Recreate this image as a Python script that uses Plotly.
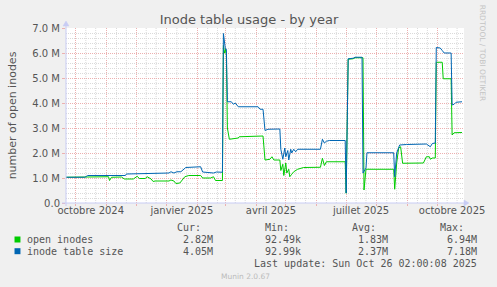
import plotly.graph_objects as go
import pandas as pd

# ---------------- data ----------------
title_text = "Inode table usage - by year"
y_title = "number of open inodes"

size_dates = ["2024-09-21", "2024-10-10", "2024-10-13", "2024-10-25", "2024-10-28", "2024-10-30",
              "2024-11-04", "2024-11-06", "2024-11-20", "2024-11-21", "2024-12-07", "2024-12-14",
              "2025-01-03", "2025-01-05", "2025-01-08", "2025-01-11", "2025-01-15", "2025-01-20",
              "2025-02-04", "2025-02-06", "2025-02-15", "2025-02-17", "2025-02-20", "2025-02-25",
              "2025-02-26", "2025-02-27", "2025-03-01", "2025-03-02", "2025-03-03", "2025-03-07",
              "2025-03-09", "2025-03-11", "2025-03-14", "2025-04-03", "2025-04-05", "2025-04-08",
              "2025-04-10", "2025-04-13", "2025-04-25", "2025-04-26", "2025-04-28", "2025-04-30",
              "2025-05-01", "2025-05-03", "2025-05-04", "2025-05-06", "2025-05-07", "2025-05-09",
              "2025-05-11", "2025-05-13", "2025-06-05", "2025-06-07", "2025-06-09", "2025-06-11",
              "2025-06-14", "2025-06-30", "2025-07-01", "2025-07-03", "2025-07-08", "2025-07-10",
              "2025-07-17", "2025-07-18", "2025-07-21", "2025-07-22", "2025-08-18", "2025-08-19",
              "2025-08-21", "2025-08-24", "2025-08-31", "2025-09-20", "2025-09-24", "2025-09-26",
              "2025-09-29", "2025-09-30", "2025-10-04", "2025-10-06", "2025-10-08", "2025-10-15",
              "2025-10-16", "2025-10-18", "2025-10-20", "2025-10-26"]
size_vals_m = [1.03, 1.03, 1.10, 1.10, 1.13, 1.10,
               1.12, 1.10, 1.10, 1.16, 1.17, 1.18,
               1.20, 1.25, 1.20, 1.25, 1.25, 1.42,
               1.45, 1.24, 1.23, 1.20, 1.24, 1.23,
               1.23, 6.78, 6.15, 6.15, 4.05, 4.05,
               3.95, 4.00, 3.85, 3.85, 3.75, 3.75,
               2.90, 2.95, 2.96, 2.15, 1.75, 2.20,
               1.85, 2.10, 1.72, 2.15, 2.00, 2.15,
               2.05, 2.15, 2.15, 2.55, 2.40, 2.47,
               2.50, 2.50, 0.40, 5.77, 5.79, 5.83,
               5.83, 1.20, 1.40, 2.01, 2.01, 1.05,
               2.00, 2.32, 2.34, 2.36, 2.25, 2.38,
               2.40, 6.22, 6.20, 6.10, 6.00, 6.00,
               3.92, 3.95, 4.03, 4.05]

open_dates = ["2024-09-21", "2024-11-01", "2024-11-03", "2024-11-04", "2024-11-06", "2024-11-16",
              "2024-11-19", "2024-11-28", "2024-12-02", "2024-12-04", "2024-12-10", "2024-12-12",
              "2024-12-16", "2024-12-18", "2024-12-20", "2025-01-03", "2025-01-05", "2025-01-08",
              "2025-01-10", "2025-01-14", "2025-01-19", "2025-01-23", "2025-02-04", "2025-02-06",
              "2025-02-14", "2025-02-17", "2025-02-19", "2025-02-26", "2025-02-27", "2025-02-28",
              "2025-03-01", "2025-03-02", "2025-03-03", "2025-03-05", "2025-03-14", "2025-03-15",
              "2025-04-03", "2025-04-08", "2025-04-10", "2025-04-15", "2025-04-17", "2025-04-19",
              "2025-04-25", "2025-04-26", "2025-04-28", "2025-04-29", "2025-05-01", "2025-05-02",
              "2025-05-04", "2025-05-05", "2025-05-07", "2025-05-09", "2025-05-13", "2025-05-19",
              "2025-06-05", "2025-06-07", "2025-06-09", "2025-06-11", "2025-06-30", "2025-07-01",
              "2025-07-03", "2025-07-08", "2025-07-10", "2025-07-18", "2025-07-19", "2025-07-21",
              "2025-08-18", "2025-08-19", "2025-08-21", "2025-08-23", "2025-08-25", "2025-08-27",
              "2025-09-17", "2025-09-20", "2025-09-23", "2025-09-24", "2025-09-26", "2025-09-29",
              "2025-09-30", "2025-10-06", "2025-10-07", "2025-10-15", "2025-10-16", "2025-10-18",
              "2025-10-26"]
open_vals_m = [1.03, 1.05, 1.05, 0.90, 1.03, 1.04,
               0.96, 0.96, 1.07, 0.98, 0.98, 1.05,
               0.96, 0.86, 0.88, 0.88, 0.92, 0.88,
               0.78, 0.80, 1.05, 1.10, 1.10, 1.00,
               1.00, 1.05, 0.90, 0.90, 6.30, 6.00,
               6.15, 5.90, 3.00, 2.55, 2.60, 2.65,
               2.65, 2.68, 1.72, 1.75, 1.85, 1.72,
               1.72, 1.30, 1.55, 1.10, 1.60, 1.20,
               1.35, 1.05, 1.15, 1.25, 1.35, 1.42,
               1.43, 1.79, 1.50, 1.65, 1.65, 0.39,
               5.75, 5.77, 5.81, 5.81, 0.52, 1.35,
               1.35, 0.55, 1.60, 2.20, 2.25, 1.59,
               1.60, 1.85, 1.85, 1.75, 1.80, 1.80,
               5.63, 5.63, 4.97, 4.97, 2.72, 2.81,
               2.82]

y_tick_vals_m = [0, 1, 2, 3, 4, 5, 6, 7]
y_tick_text = ["0.0", "1.0 M", "2.0 M", "3.0 M", "4.0 M", "5.0 M", "6.0 M", "7.0 M"]
x_label_text = ["octobre 2024", "janvier 2025", "avril 2025", "juillet 2025", "octobre 2025"]
x_label_months = ["2024-10-01", "2025-01-01", "2025-04-01", "2025-07-01", "2025-10-01"]
x_range = ["2024-09-21", "2025-10-28"]

legend_names = ["open inodes", "inode table size"]
legend_colors = ["#00CC00", "#0066B3"]
stat_headers = ["Cur:", "Min:", "Avg:", "Max:"]
stat_cur = ["2.82M", "4.05M"]
stat_min = ["92.49k", "92.99k"]
stat_avg = ["1.83M", "2.37M"]
stat_max = ["6.94M", "7.18M"]
last_update = "Last update: Sun Oct 26 02:00:08 2025"
munin_version = "Munin 2.0.67"
rrd_credit = "RRDTOOL / TOBI OETIKER"

# ---------------- geometry helpers ----------------
W, H = 497, 287
L, R, T, B = 66, 468, 28, 203


def px(X):
    return (X - L) / (R - L)


def py(Y):
    return (B - Y) / (B - T)


SANS = "DejaVu Sans"
MONO = "DejaVu Sans Mono"
TXT = "#555555"

fig = go.Figure()
fig.add_trace(go.Scatter(x=pd.to_datetime(open_dates), y=[v * 1e6 for v in open_vals_m],
                         mode="lines", line=dict(color=legend_colors[0], width=1),
                         name=legend_names[0], showlegend=False, hoverinfo="skip"))
fig.add_trace(go.Scatter(x=pd.to_datetime(size_dates), y=[v * 1e6 for v in size_vals_m],
                         mode="lines", line=dict(color=legend_colors[1], width=1),
                         name=legend_names[1], showlegend=False, hoverinfo="skip"))

month_starts = pd.date_range("2024-10-01", "2025-10-01", freq="MS")
label_pos = [pd.Timestamp(m) + pd.Timedelta(days=15) for m in x_label_months]

RED = "#ECB0B0"
GRAY = "#DADADA"
AXIS = "#C8CCF4"

fig.update_layout(
    width=W, height=H,
    margin=dict(l=L, r=W - R, t=T, b=H - B),
    paper_bgcolor="#F0F0F0", plot_bgcolor="#FFFFFF",
    showlegend=False,
    title=dict(text=title_text, x=249 / W, xref="container", xanchor="center",
               y=1 - 19 / H, yref="container", yanchor="middle",
               font=dict(family=SANS, size=13, color=TXT)),
    xaxis=dict(type="date", range=x_range, showgrid=False, zeroline=False,
               tickmode="array", tickvals=label_pos, ticktext=x_label_text,
               ticks="", tickfont=dict(family=SANS, size=10, color=TXT),
               minor=dict(tickmode="array", tickvals=list(month_starts), showgrid=True,
                          gridcolor=RED, griddash="1px,1px", gridwidth=1,
                          ticks="outside", ticklen=2, tickcolor=RED),
               showline=False, fixedrange=True),
    yaxis=dict(range=[0, 7e6], tickmode="array", tickvals=[v * 1e6 for v in y_tick_vals_m],
               ticktext=y_tick_text, showgrid=True, gridcolor=RED, griddash="1px,1px",
               gridwidth=1, zeroline=False, ticks="outside", ticklen=3, tickcolor=RED,
               tickfont=dict(family=SANS, size=10, color=TXT),
               minor=dict(dtick=0.2e6, showgrid=True, gridcolor=GRAY, griddash="1px,1px"),
               title=dict(text=y_title, font=dict(family=SANS, size=11, color=TXT), standoff=13),
               showline=False, fixedrange=True),
)

shapes = []
# gray minor vertical grid lines (roughly every ten days)
for m in pd.date_range("2024-09-01", "2025-10-01", freq="MS"):
    for d in (10, 20):
        t = m + pd.Timedelta(days=d)
        if pd.Timestamp(x_range[0]) < t < pd.Timestamp(x_range[1]):
            shapes.append(dict(type="line", xref="x", yref="paper", x0=t, x1=t, y0=0, y1=1,
                               line=dict(color=GRAY, width=1, dash="1px,1px"), layer="below"))
# axes with arrows
shapes.append(dict(type="line", xref="paper", yref="paper", x0=px(62), x1=px(469), y0=0, y1=0,
                   line=dict(color=AXIS, width=1)))
shapes.append(dict(type="line", xref="paper", yref="paper", x0=0, x1=0, y0=py(206), y1=py(24),
                   line=dict(color=AXIS, width=1)))
shapes.append(dict(type="path", xref="paper", yref="paper",
                   path=f"M {px(468)} {py(200)} L {px(473)} {py(203)} L {px(468)} {py(206)} Z",
                   fillcolor=AXIS, line=dict(color=AXIS, width=0.5)))
shapes.append(dict(type="path", xref="paper", yref="paper",
                   path=f"M {px(63)} {py(26)} L {px(66)} {py(21)} L {px(69)} {py(26)} Z",
                   fillcolor=AXIS, line=dict(color=AXIS, width=0.5)))
# legend squares
for i, c in enumerate(legend_colors):
    yc = 239.5 + 11.7 * i
    shapes.append(dict(type="rect", xref="paper", yref="paper",
                       x0=px(14), x1=px(20), y0=py(yc + 3), y1=py(yc - 3),
                       fillcolor=c, line=dict(width=0)))
fig.update_layout(shapes=shapes)

ann = []


def text(X, Y, s, anchor="left", size=10, color=TXT, family=MONO, angle=0):
    ann.append(dict(x=px(X), y=py(Y), xref="paper", yref="paper", text=s, showarrow=False,
                    xanchor=anchor, yanchor="middle", textangle=angle,
                    font=dict(family=family, size=size, color=color)))


header_right = [204, 293, 381, 470]
value_right = [217, 305, 393, 483]
for h, xr in zip(stat_headers, header_right):
    text(xr, 227.5, h, "right")
for i, name in enumerate(legend_names):
    yc = 239.5 + 11.7 * i
    text(25, yc, name, "left")
    for vals, xr in zip([stat_cur, stat_min, stat_avg, stat_max], value_right):
        text(xr, yc, vals[i], "right")
text(483, 263.5, last_update, "right")
text(247.5, 276.5, munin_version, "center", size=7.5, color="#BBBBBB", family=SANS)
text(487.5, 53, rrd_credit, "center", size=7.5, color="#C4C4C4", family=SANS, angle=90)
fig.update_layout(annotations=ann)

fig.write_html("out.html")
